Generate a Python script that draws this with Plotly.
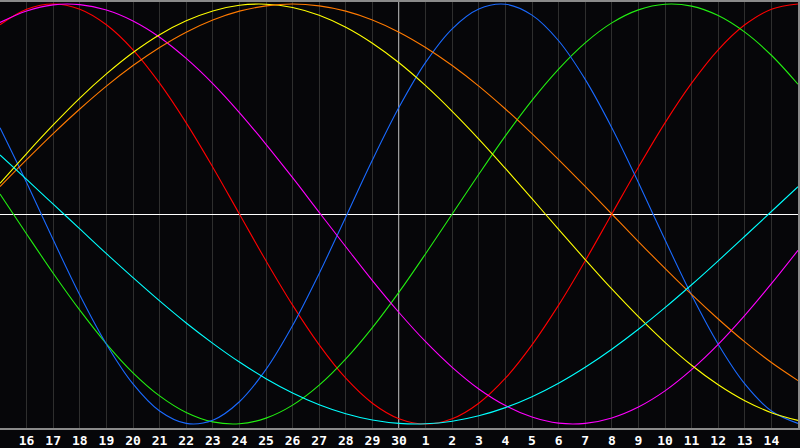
import plotly.graph_objects as go

# day labels shown under the grid (day index 1..29)
day_labels = ['16', '17', '18', '19', '20', '21', '22', '23', '24', '25', '26', '27',
              '28', '29', '30', '1', '2', '3', '4', '5', '6', '7', '8', '9', '10',
              '11', '12', '13', '14']
today_index = 15

# values, one per day index 0..30
red = [0.901, 0.975, 1.000, 0.975, 0.901, 0.782, 0.623, 0.434, 0.223, 0.000, -0.223,
       -0.434, -0.623, -0.782, -0.901, -0.975, -1.000, -0.975, -0.901, -0.782, -0.623,
       -0.434, -0.223, 0.000, 0.223, 0.434, 0.623, 0.782, 0.901, 0.975, 1.000]
green = [0.095, -0.095, -0.282, -0.458, -0.618, -0.756, -0.866, -0.945, -0.990, -0.999,
         -0.972, -0.910, -0.815, -0.690, -0.541, -0.372, -0.189, 0.000, 0.189, 0.372,
         0.541, 0.690, 0.815, 0.910, 0.972, 0.999, 0.990, 0.945, 0.866, 0.756, 0.618]
blue = [0.411, 0.150, -0.123, -0.386, -0.620, -0.809, -0.938, -0.997, -0.982, -0.894,
        -0.740, -0.531, -0.283, -0.014, 0.257, 0.508, 0.722, 0.882, 0.976, 0.999, 0.947,
        0.825, 0.641, 0.411, 0.150, -0.123, -0.386, -0.620, -0.809, -0.938, -0.997]
magenta = [0.912, 0.967, 0.996, 0.997, 0.971, 0.919, 0.842, 0.741, 0.621, 0.483, 0.332,
           0.173, 0.008, -0.156, -0.317, -0.469, -0.608, -0.730, -0.833, -0.912, -0.967,
           -0.996, -0.997, -0.971, -0.919, -0.842, -0.741, -0.621, -0.483, -0.332, -0.173]
yellow = [0.146, 0.288, 0.424, 0.552, 0.667, 0.769, 0.854, 0.920, 0.967, 0.994, 0.999,
          0.983, 0.946, 0.889, 0.813, 0.720, 0.611, 0.489, 0.357, 0.217, 0.073, -0.073,
          -0.217, -0.357, -0.489, -0.611, -0.720, -0.813, -0.889, -0.946, -0.983]
orange = [0.131, 0.259, 0.383, 0.500, 0.609, 0.707, 0.793, 0.866, 0.924, 0.966, 0.991,
          1.000, 0.991, 0.966, 0.924, 0.866, 0.793, 0.707, 0.609, 0.500, 0.383, 0.259,
          0.131, 0.000, -0.131, -0.259, -0.383, -0.500, -0.609, -0.707, -0.793]
cyan = [0.281, 0.165, 0.047, -0.071, -0.189, -0.303, -0.414, -0.519, -0.616, -0.705,
        -0.784, -0.852, -0.908, -0.951, -0.981, -0.997, -0.999, -0.987, -0.961, -0.922,
        -0.870, -0.806, -0.730, -0.644, -0.549, -0.446, -0.337, -0.223, -0.106, 0.012,
        0.130]

days = list(range(len(red)))

series = [
    ('red', red, '#ff0000'),
    ('green', green, '#22ee11'),
    ('blue', blue, '#1a6aff'),
    ('magenta', magenta, '#ff00ff'),
    ('yellow', yellow, '#ffff00'),
    ('orange', orange, '#ff7a00'),
    ('cyan', cyan, '#00ffff'),
]

fig = go.Figure()
for name, values, colour in series:
    fig.add_trace(go.Scatter(x=days, y=values, mode='lines', name=name,
                             line=dict(color=colour, width=1.1, shape='spline'),
                             hoverinfo='skip'))

# today marker
fig.add_vline(x=today_index, line=dict(color='white', width=1.2), layer='below')

fig.update_layout(
    width=800, height=448,
    margin=dict(l=0, r=0, t=0, b=20),
    paper_bgcolor='#060609',
    plot_bgcolor='#060609',
    showlegend=False,
    xaxis=dict(range=[0, 30], tickvals=list(range(1, 30)), ticktext=day_labels,
               showgrid=True, gridcolor='#2e2e2e', gridwidth=1, zeroline=False,
               showline=True, linecolor='#8a8a8a', linewidth=1.5, mirror=True,
               ticks='', tickangle=0,
               tickfont=dict(family='DejaVu Sans Mono', size=13, color='white',
                             weight='bold')),
    yaxis=dict(range=[-1.019, 1.0095], showgrid=False, showticklabels=False,
               zeroline=True, zerolinecolor='white', zerolinewidth=1.2,
               showline=True, linecolor='#8a8a8a', linewidth=1.5, mirror=True,
               ticks=''),
)

# drop the page margin so the 800x448 figure fills the window
fig.write_html('out.html', config={'displayModeBar': False},
               post_script="document.body.style.margin='0';"
                           "document.body.style.overflow='hidden';")
